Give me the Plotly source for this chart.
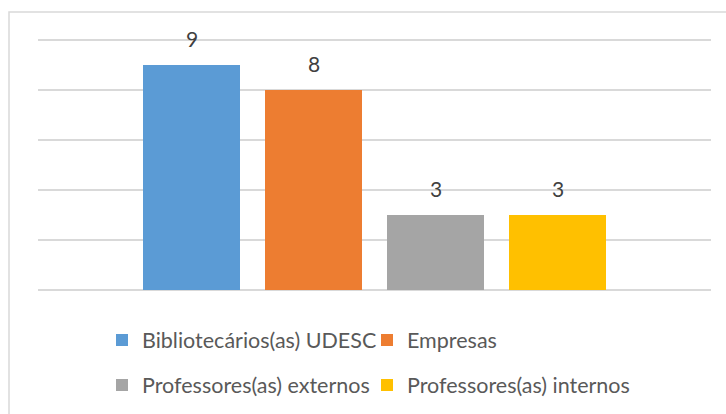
import plotly.graph_objects as go

series_names = ["Bibliotecários(as) UDESC", "Empresas", "Professores(as) externos", "Professores(as) internos"]
series_values = [9, 8, 3, 3]
series_colors = ["#5B9BD5", "#ED7D31", "#A5A5A5", "#FFC000"]
legend_rows = ["legend", "legend", "legend2", "legend2"]
y_ticks = [0, 2, 4, 6, 8, 10]

FONT = "Lato"
fig = go.Figure()
for name, val, col, lg in zip(series_names, series_values, series_colors, legend_rows):
    fig.add_trace(go.Bar(
        x=[name], y=[val], name=name, marker=dict(color=col, line=dict(width=0)),
        hoverinfo="skip", legend=lg,
    ))

for name, val in zip(series_names, series_values):
    fig.add_annotation(x=name, y=val, text=str(val), showarrow=False,
                       yanchor="bottom", yshift=12,
                       font=dict(family=FONT, size=21, color="#404040"))

W, H = 726, 414
L, R, T, B = 38, 15, 38, 124
pw = W - L - R
ph = H - T - B
n = len(series_names)
slot = 122.0
span = pw / slot
ymax = ph / 25.0
leg_common = dict(orientation="h", xref="container", yref="container",
                  xanchor="left", yanchor="middle",
                  font=dict(family=FONT, size=21.5, color="#595959"),
                  entrywidth=220, entrywidthmode="pixels",
                  traceorder="normal", itemclick=False, itemdoubleclick=False,
                  bgcolor="rgba(0,0,0,0)")
fig.update_layout(
    width=W, height=H,
    margin=dict(l=L, r=R, t=T, b=B, autoexpand=False),
    paper_bgcolor="white", plot_bgcolor="white",
    barmode="overlay", bargap=25 / 122,
    showlegend=True,
    legend=dict(leg_common, x=102 / W, y=1 - 340 / H),
    legend2=dict(leg_common, x=102 / W, y=1 - 385 / H),
    xaxis=dict(range=[(n - 1) / 2 - span / 2, (n - 1) / 2 + span / 2],
               showticklabels=False, showgrid=False, zeroline=False, showline=False,
               ticks=""),
    yaxis=dict(range=[0, ymax], tickvals=y_ticks, showticklabels=False,
               showgrid=True, gridcolor="#D9D9D9", gridwidth=1.3,
               zeroline=True, zerolinecolor="#D9D9D9", zerolinewidth=1.3,
               showline=False, ticks=""),
    shapes=[dict(type="rect", xref="paper", yref="paper",
                 x0=(9 - L) / pw, x1=(W + 20 - L) / pw,
                 y0=-(H - 290 + 20) / ph, y1=(290 - 12) / ph,
                 line=dict(color="#D9D9D9", width=1.5), fillcolor="rgba(0,0,0,0)",
                 layer="below")],
)
fig.write_html("out.html", config={"displayModeBar": False, "staticPlot": True},
               post_script="document.body.style.margin='0';")
